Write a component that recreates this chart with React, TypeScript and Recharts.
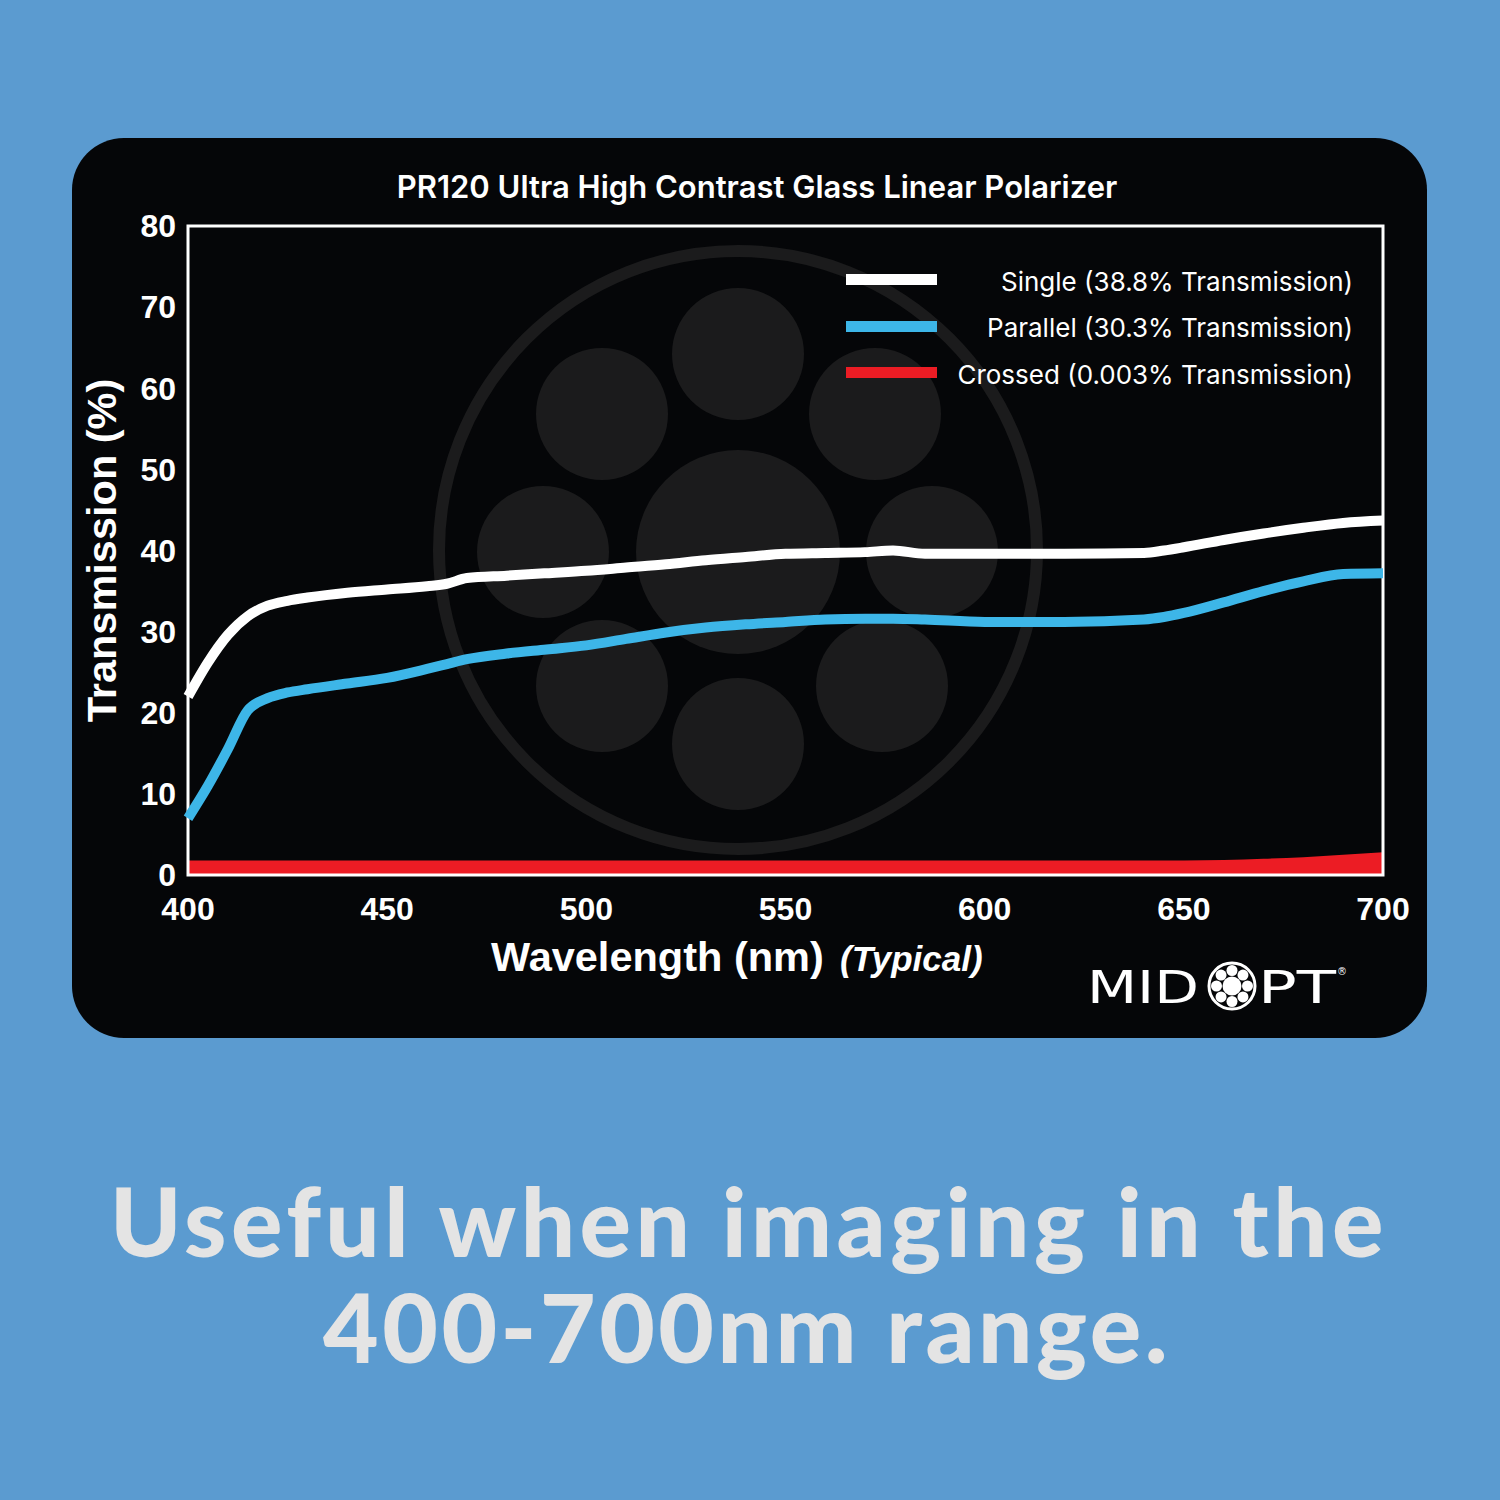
import { ComposedChart, Line, Area, XAxis, YAxis, Legend, ReferenceArea } from 'recharts';

const wavelengths = [400, 405, 410, 415, 420, 425, 430, 440, 450, 460, 465, 470, 480, 490, 500, 510, 520, 530, 540, 550, 560, 570, 577, 585, 600, 620, 640, 645, 650, 660, 670, 680, 690, 700];
const single = [22.0, 26.2, 29.6, 31.9, 33.2, 33.8, 34.2, 34.8, 35.2, 35.6, 35.9, 36.6, 36.9, 37.2, 37.5, 37.9, 38.3, 38.8, 39.2, 39.6, 39.7, 39.8, 40.0, 39.6, 39.6, 39.6, 39.7, 40.0, 40.4, 41.3, 42.1, 42.8, 43.4, 43.7];
const parallel = [7.0, 11.0, 15.5, 20.3, 21.8, 22.5, 22.9, 23.6, 24.3, 25.4, 26.0, 26.6, 27.3, 27.8, 28.3, 29.1, 29.9, 30.5, 30.9, 31.2, 31.5, 31.6, 31.6, 31.5, 31.2, 31.2, 31.5, 31.8, 32.3, 33.6, 35.0, 36.2, 37.1, 37.2];
const crossed = [1.8, 1.8, 1.8, 1.8, 1.8, 1.8, 1.8, 1.8, 1.8, 1.8, 1.8, 1.8, 1.8, 1.8, 1.8, 1.8, 1.8, 1.8, 1.8, 1.8, 1.8, 1.8, 1.8, 1.8, 1.8, 1.8, 1.8, 1.8, 1.8, 1.85, 2.0, 2.2, 2.5, 2.8];

const xTicks = [400, 450, 500, 550, 600, 650, 700];
const yTicks = [0, 10, 20, 30, 40, 50, 60, 70, 80];

const seriesNames = {
  single: 'Single (38.8% Transmission)',
  parallel: 'Parallel (30.3% Transmission)',
  crossed: 'Crossed (0.003% Transmission)',
};

const data = wavelengths.map((nm, i) => ({
  nm,
  single: single[i],
  parallel: parallel[i],
  crossed: crossed[i],
}));

const WHITE = '#ffffff';
const BLUE = '#3db6e8';
const RED = '#ec1c24';
const MARK = '#1b1b1c';

const tickStyle = { fill: '#fff', fontSize: 32, fontWeight: 700, fontFamily: '"Liberation Sans", Arial, sans-serif' };

function LegendBox({ payload }: any) {
  const order = [seriesNames.single, seriesNames.parallel, seriesNames.crossed];
  const items = [...(payload || [])].sort((a: any, b: any) => order.indexOf(a.value) - order.indexOf(b.value));
  return (
    <div style={{ fontFamily: 'Inter, "Noto Sans", sans-serif' }}>
      {items.map((it: any) => (
        <div key={it.value} style={{ display: 'flex', alignItems: 'center', justifyContent: 'space-between', height: 46.5 }}>
          <div style={{ width: 91, height: 11, background: it.color, marginTop: -3 }} />
          <span style={{ color: '#fff', fontSize: 26 }}>{it.value}</span>
        </div>
      ))}
    </div>
  );
}

function Watermark() {
  const cx = 738;
  const cy = 550;
  const outer = [
    [738, 354], [875, 414], [932, 552], [882, 686],
    [738, 744], [602, 686], [543, 552], [602, 414],
  ];
  return (
    <svg width={1500} height={1100} style={{ position: 'absolute', left: 0, top: 0 }}>
      <circle cx={cx} cy={cy} r={299} fill="none" stroke={MARK} strokeWidth={12} />
      <circle cx={cx} cy={552} r={102} fill={MARK} />
      {outer.map(([x, y], i) => (
        <circle key={i} cx={x} cy={y} r={66} fill={MARK} />
      ))}
    </svg>
  );
}

function Logo() {
  const cx = 1232;
  const cy = 986;
  const ring = Array.from({ length: 8 }, (_, i) => i * 45);
  return (
    <svg width={1500} height={1100} style={{ position: 'absolute', left: 0, top: 0 }}>
      <g fill="#fff" fontFamily='"DejaVu Sans", sans-serif' fontSize={44}>
        <text x={1087} y={1003} textLength={112} lengthAdjust="spacingAndGlyphs">MID</text>
        <text x={1258} y={1003} textLength={78} lengthAdjust="spacingAndGlyphs">PT</text>
        <text x={1342} y={975} fontSize={10} textAnchor="middle">®</text>
      </g>
      <circle cx={cx} cy={cy} r={23} fill="none" stroke="#fff" strokeWidth={3} />
      <circle cx={cx} cy={cy} r={9.5} fill="#fff" />
      {ring.map((a) => (
        <circle key={a} cx={cx + 15.5 * Math.cos((a * Math.PI) / 180)} cy={cy + 15.5 * Math.sin((a * Math.PI) / 180)} r={5.5} fill="#fff" />
      ))}
    </svg>
  );
}

export default function App() {
  return (
    <div style={{ position: 'absolute', left: 0, top: 0, width: 1500, height: 1500, background: '#5b9bd0', overflow: 'hidden' }}>
      <div style={{ position: 'absolute', left: 72, top: 138, width: 1355, height: 900, background: '#050608', borderRadius: 52 }} />
      <Watermark />
      <div style={{ position: 'absolute', left: 0, top: 0 }}>
        <ComposedChart width={1500} height={1100} data={data} margin={{ top: 226, right: 117, bottom: 125, left: 100 }}>
          <text x={757} y={186} textAnchor="middle" dominantBaseline="central" fill="#fff" fontSize={31} fontWeight={600} fontFamily='Inter, "Noto Sans", sans-serif'>
            PR120 Ultra High Contrast Glass Linear Polarizer
          </text>
          <XAxis
            dataKey="nm"
            type="number"
            domain={[400, 700]}
            ticks={xTicks}
            interval={0}
            axisLine={false}
            tickLine={false}
            tickSize={0}
            tickMargin={22}
            tick={tickStyle}
            height={100}
            label={({ viewBox }: any) => (
              <g fill="#fff" fontFamily='"Liberation Sans", Arial, sans-serif' fontWeight={700}>
                <text x={viewBox.x + 303} y={971} fontSize={41.5}>Wavelength (nm)</text>
                <text x={viewBox.x + 652} y={971} fontSize={35} fontStyle="italic">(Typical)</text>
              </g>
            )}
          />
          <YAxis
            type="number"
            domain={[0, 80]}
            ticks={yTicks}
            interval={0}
            axisLine={false}
            tickLine={false}
            tickSize={0}
            tickMargin={12}
            tick={tickStyle}
            width={88}
            label={({ viewBox }: any) => {
              const x = viewBox.x + 1;
              const y = viewBox.y + viewBox.height / 2;
              return (
                <text x={x} y={y} transform={`rotate(-90, ${x}, ${y})`} textAnchor="middle" dominantBaseline="central" fill="#fff" fontSize={41.5} fontWeight={700} fontFamily='"Liberation Sans", Arial, sans-serif'>
                  Transmission (%)
                </text>
              );
            }}
          />
          <Legend
            layout="horizontal"
            verticalAlign="middle"
            align="center"
            content={<LegendBox />}
            wrapperStyle={{ left: 846, top: 258, width: 507, right: 'auto', bottom: 'auto' }}
          />
          <Area dataKey="crossed" name={seriesNames.crossed} type="monotone" stroke="none" fill={RED} fillOpacity={1} baseValue={0} isAnimationActive={false} legendType="rect" />
          <Line dataKey="single" name={seriesNames.single} type="monotone" stroke={WHITE} strokeWidth={10} dot={false} activeDot={false} isAnimationActive={false} />
          <Line dataKey="parallel" name={seriesNames.parallel} type="monotone" stroke={BLUE} strokeWidth={10} dot={false} activeDot={false} isAnimationActive={false} />
          <ReferenceArea x1={400} x2={700} y1={0} y2={80} fill="none" fillOpacity={0} stroke="#fff" strokeWidth={3} ifOverflow="visible" />
        </ComposedChart>
      </div>
      <Logo />
      <svg width={1500} height={1500} style={{ position: 'absolute', left: 0, top: 0, pointerEvents: 'none' }}>
        <g fill="#e4e4e4" fontFamily='Lato, "Open Sans", sans-serif' fontWeight={900} fontSize={96} letterSpacing={4.5}>
          <text x={110} y={1257} textLength={1278} lengthAdjust="spacing">Useful when imaging in the</text>
          <text x={323} y={1363} textLength={849} lengthAdjust="spacing">400-700nm range.</text>
        </g>
      </svg>
    </div>
  );
}
